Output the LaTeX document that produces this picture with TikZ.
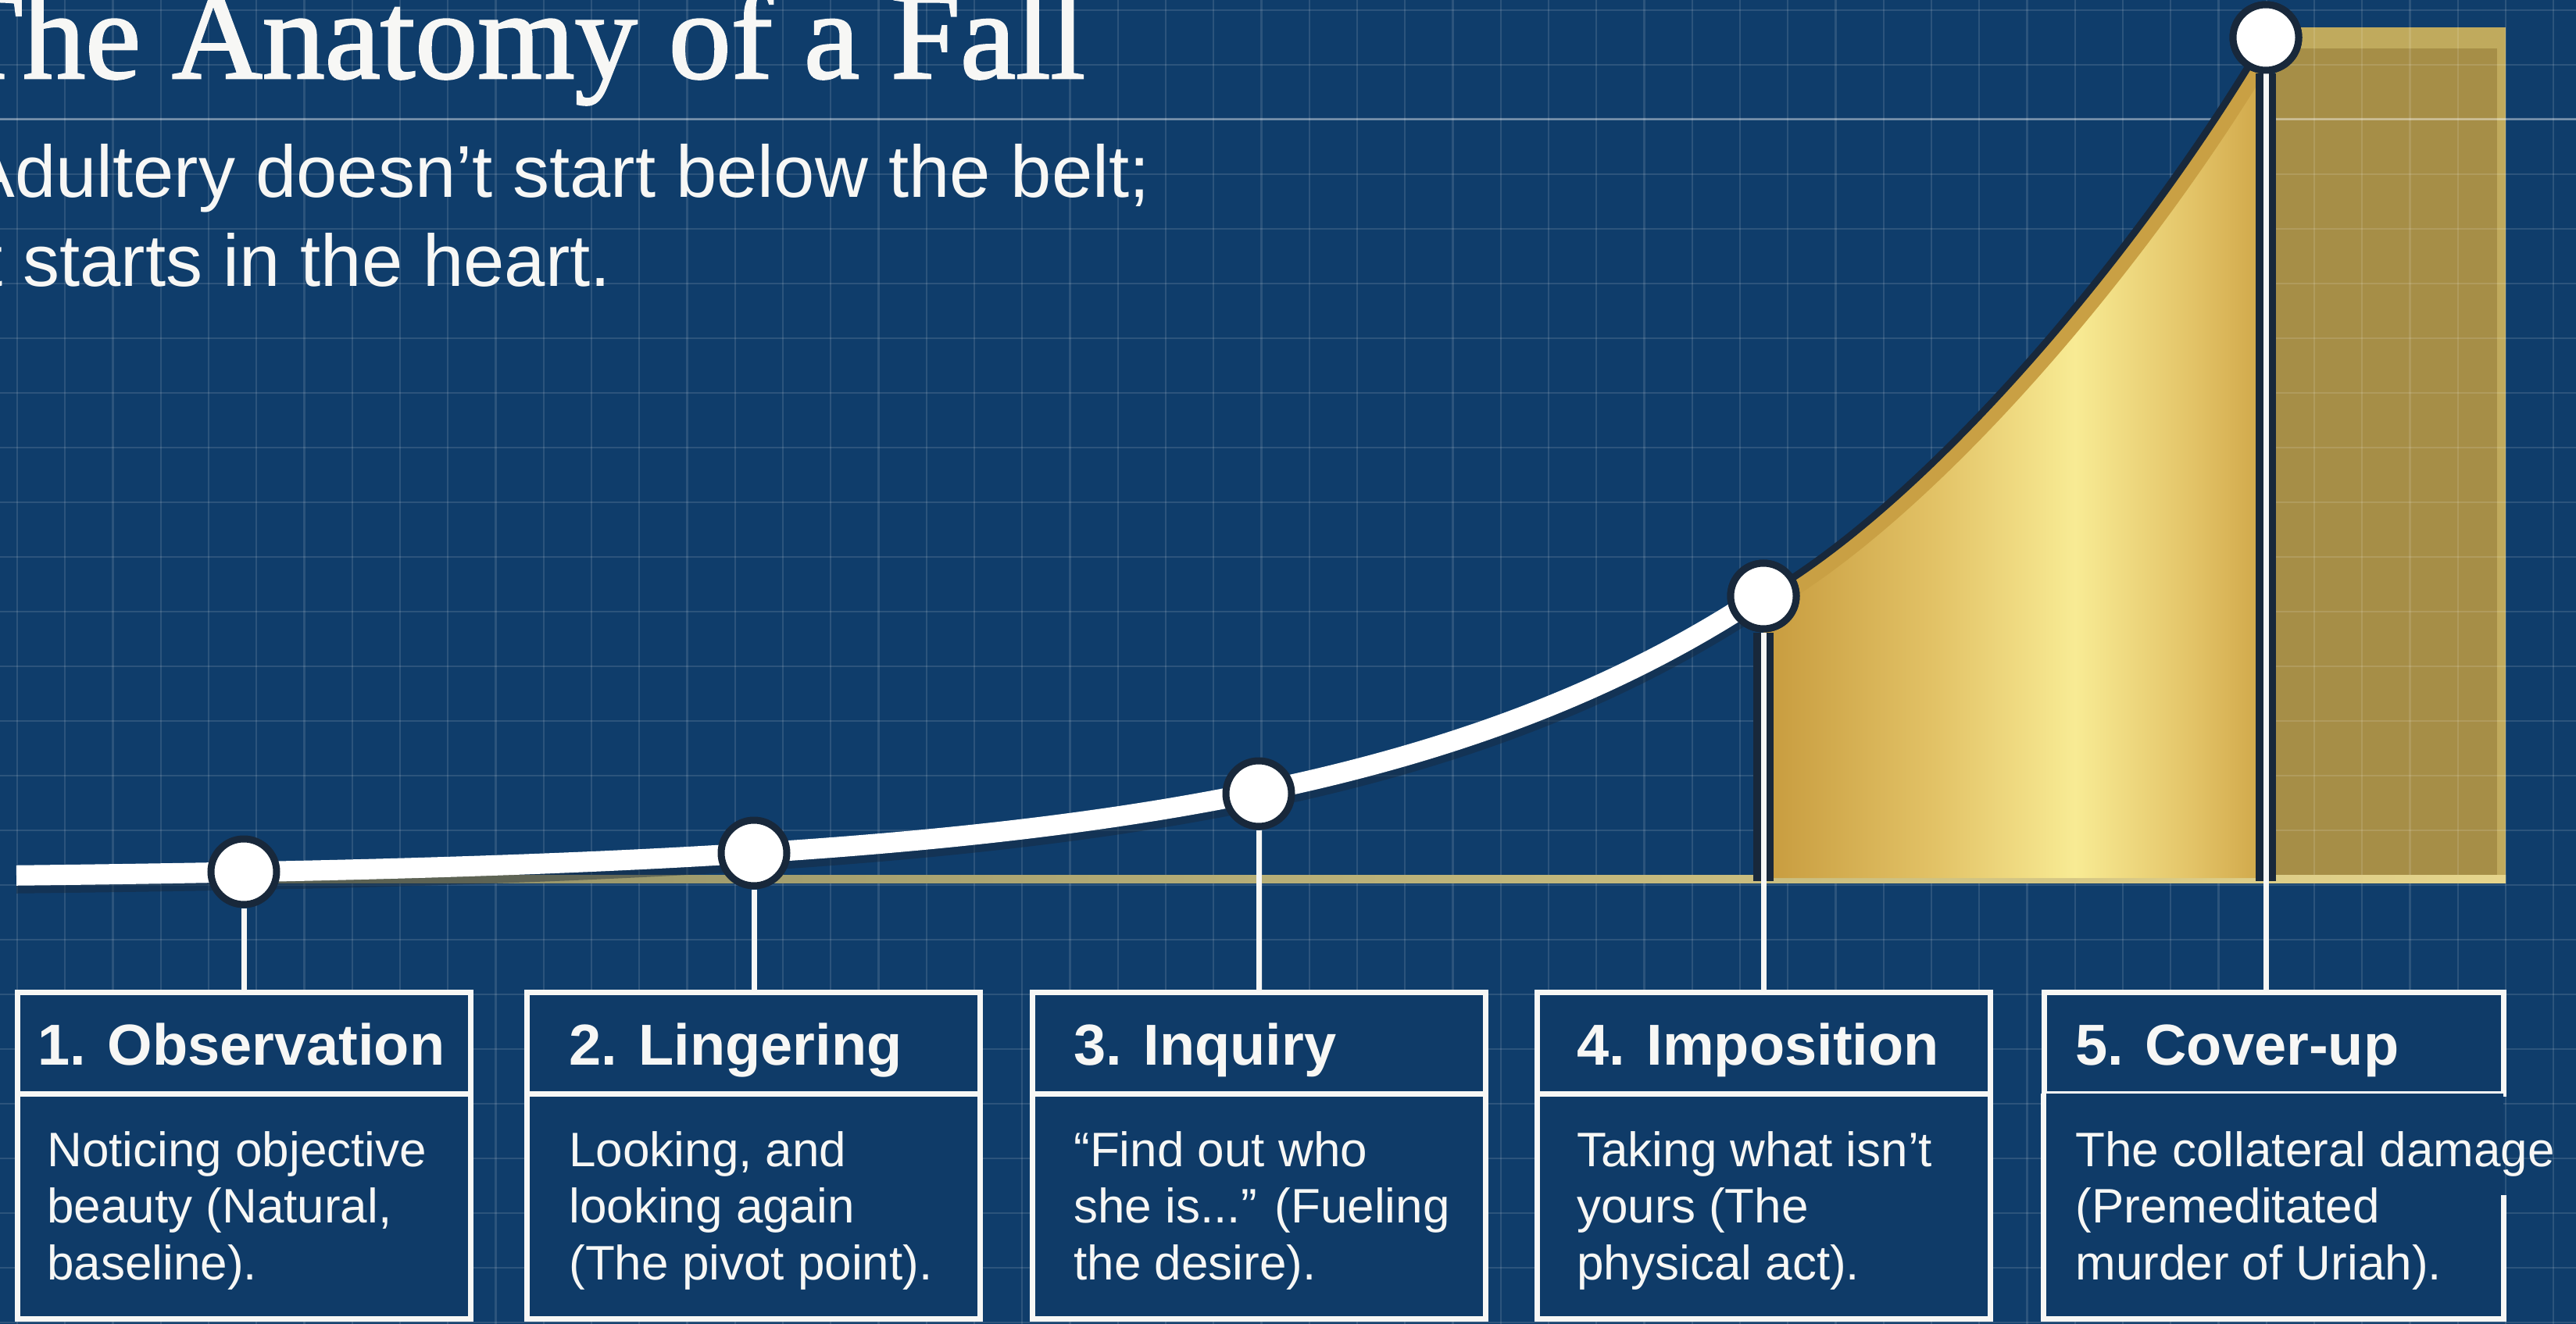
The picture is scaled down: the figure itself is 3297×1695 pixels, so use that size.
\documentclass[tikz,border=0pt]{standalone}
\usepackage{fontspec}
\setmainfont{Liberation Sans}
\newfontfamily\titlefont[FakeBold=1.6]{Liberation Serif}
\usetikzlibrary{calc}

\definecolor{bgblue}{HTML}{0F3D6B}
\definecolor{boxblue}{HTML}{0F3B68}
\definecolor{ringc}{HTML}{18283B}
\definecolor{gA}{HTML}{C79B3E}
\definecolor{gB}{HTML}{E2C266}
\definecolor{gC}{HTML}{F8EB94}
\definecolor{gD}{HTML}{CFA648}
\definecolor{goldband}{HTML}{C9A044}
\definecolor{rectborder}{HTML}{D4B65C}
\definecolor{rectfill}{HTML}{A58D46}
\definecolor{lineL}{HTML}{8F8E66}
\definecolor{lineR}{HTML}{E6D58C}
\definecolor{txt}{HTML}{F7F7F5}

\pgfdeclarehorizontalshading{goldshade}{100bp}{color(0bp)=(gA); color(25bp)=(gA); color(42bp)=(gB); color(56bp)=(gC); color(68bp)=(gB); color(75bp)=(gD); color(100bp)=(gD)}

\tikzset{
  gridline/.style={white, opacity=.12, line width=1.1pt},
  gridmajor/.style={white, opacity=.35, line width=1.5pt},
  curveline/.style={white, line width=13pt, line cap=butt},
  curveshadow/.style={ringc, opacity=.45, line width=15pt},
  dot/.style={circle, fill=white, draw=ringc, line width=4.5pt, minimum size=42pt, inner sep=0pt},
  conn/.style={txt, line width=3.5pt},
  connborder/.style={ringc, line width=13pt},
  hdr/.style={rectangle, draw=txt, line width=3.5pt, fill=boxblue, minimum width=290pt, minimum height=65pt, inner sep=0pt},
  bodybox/.style={rectangle, draw=txt, line width=3.5pt, fill=boxblue, minimum width=290pt, minimum height=144pt, inner sep=0pt},
  bodyfill/.style={rectangle, fill=boxblue, minimum width=294pt, minimum height=144pt, inner sep=0pt},
  boxline/.style={txt, line width=3.5pt},
  hdrtext/.style={anchor=base west, inner sep=0pt, text=txt, font=\bfseries\fontsize{37pt}{40pt}\selectfont},
  bodytext/.style={anchor=base west, inner sep=0pt, text=txt, font=\fontsize{31pt}{36.25pt}\selectfont},
}

\begin{document}
\begin{tikzpicture}[x=0.5pt, y=-0.5pt]
\path[use as bounding box] (0,0) rectangle (3297,1695);
\clip (0,0) rectangle (3297,1695);

% background
\fill[bgblue] (0,0) rectangle (3297,1695);

% translucent gold block (behind grid)
\fill[rectborder, opacity=.9] (2912,35) rectangle (3207,1130);
\fill[rectfill, opacity=.95] (2912,62) rectangle (3196,1121);

% grid
\foreach \i in {0,...,53} \draw[gridline] ({22+61.25*\i},0) -- ++(0,1695);
\foreach \j in {-2,...,22} \draw[gridline] (0,{153+70*\j}) -- ++(3297,0);
\draw[gridmajor] (0,153) -- (3297,153);

% gold baseline
\shade[left color=lineL, right color=lineR] (312,1120) rectangle (3207,1130);

% gold area under steep curve
\begin{scope}
  \clip (2257,763) .. controls (2470,640) and (2740,320) .. (2900,48) -- (2900,1124) -- (2257,1124) -- cycle;
  \shade[shading=goldshade] (2257,40) rectangle (2900,1124);
  \draw[goldband, line width=22pt] (2257,763) .. controls (2470,640) and (2740,320) .. (2900,48);
\end{scope}
\draw[ringc, line width=4.5pt] (2257,763) .. controls (2470,640) and (2740,320) .. (2900,48);

% white curve
\draw[curveshadow, yshift=-4pt] plot[domain=21:2257, samples=90, smooth] (\x,{1121-6.09*(exp(0.001813*\x)-1)});
\draw[curveline] plot[domain=21:2257, samples=90, smooth] (\x,{1121-6.09*(exp(0.001813*\x)-1)});

% boxes
\node[hdr] (h1) at (312,1335) {};
\node[hdr] (h2) at (964,1335) {};
\node[hdr] (h3) at (1611,1335) {};
\node[hdr] (h4) at (2257,1335) {};
\node[hdr, minimum width=294pt] (h5) at (2910,1335) {};
\node[bodybox] (b1) at (312,1544) {};
\node[bodybox] (b2) at (964,1544) {};
\node[bodybox] (b3) at (1611,1544) {};
\node[bodybox] (b4) at (2257,1544) {};
\node[bodyfill] (b5) at (2910,1544) {};
\draw[boxline] (b5.south east |- 0,1530) -- (b5.south east) -- (b5.south west) -- (b5.north west);

% circles
\node[dot] (c1) at (312,1116) {};
\node[dot] (c2) at (965,1092) {};
\node[dot] (c3) at (1611,1016) {};
\node[dot] (c4) at (2257,763) {};
\node[dot] (c5) at (2900,48) {};

% connectors
\draw[connborder] (c4.south) -- (c4.south |- 0,1128);
\draw[connborder] (c5.south) -- (c5.south |- 0,1128);
\draw[conn] (c1.south) -- (c1.south |- h1.north);
\draw[conn] (c2.south) -- (c2.south |- h2.north);
\draw[conn] (c3.south) -- (c3.south |- h3.north);
\draw[conn] (c4.south) -- (c4.south |- h4.north);
\draw[conn] (c5.south) -- (c5.south |- h5.north);
\node[dot] at (c4) {};
\node[dot] at (c5) {};

% header texts
\node[hdrtext] (t1) at (48,1363) {1. Observation};
\node[hdrtext] (t2) at (728,1363) {2. Lingering};
\node[hdrtext] (t3) at (1374,1363) {3. Inquiry};
\node[hdrtext] (t4) at (2018,1363) {4. Imposition};
\node[hdrtext] (t5) at (2656,1363) {5. Cover-up};

% body texts
\node[bodytext] (d1) at (60,1493) {\parbox[t]{600pt}{Noticing objective\\beauty (Natural,\\baseline).}};
\node[bodytext] (d2) at (728,1493) {\parbox[t]{600pt}{Looking, and\\looking again\\(The pivot point).}};
\node[bodytext] (d3) at (1374,1493) {\parbox[t]{600pt}{“Find out who\\she is...” (Fueling\\the desire).}};
\node[bodytext] (d4) at (2018,1493) {\parbox[t]{600pt}{Taking what isn’t\\yours (The\\physical act).}};
\node[bodytext] (d5) at (2656,1493) {\parbox[t]{600pt}{The collateral damage\\(Premeditated\\murder of Uriah).}};

% title and subtitle
\node[anchor=base west, inner sep=0pt, text=txt, font=\titlefont\fontsize{80pt}{80pt}\selectfont] (title) at (-69,100) {The Anatomy of a Fall};
\node[anchor=base west, inner sep=0pt, text=txt] (sub) at (-44,253) {\parbox[t]{900pt}{\fontsize{47pt}{57pt}\selectfont Adultery doesn’t start below the belt;\\it starts in the heart.}};
\end{tikzpicture}
\end{document}
